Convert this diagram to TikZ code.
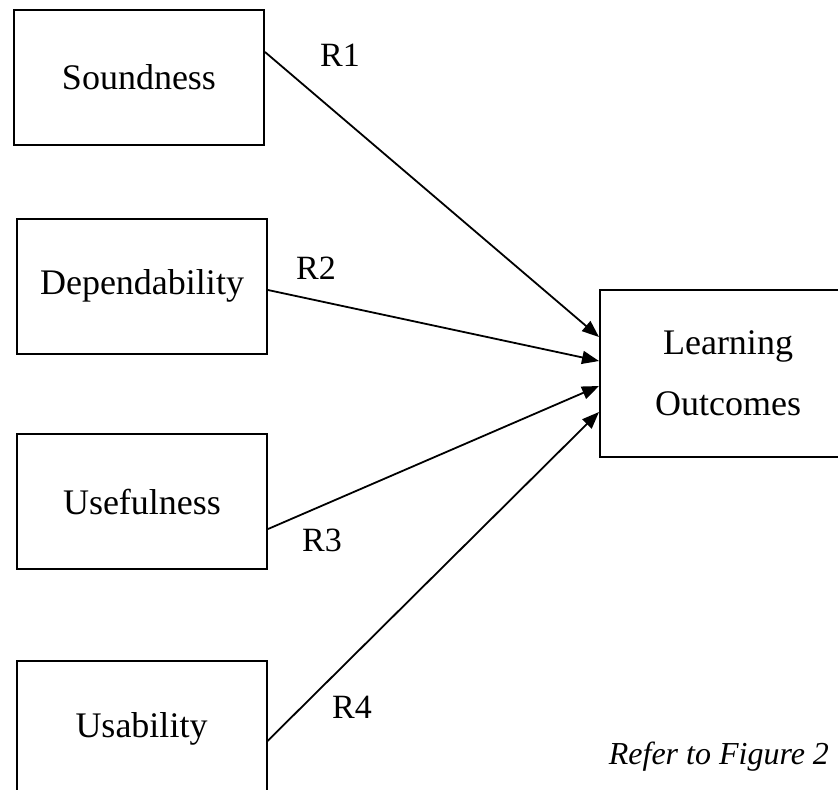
\documentclass[tikz,border=0pt]{standalone}
\usepackage{fontspec}
\setmainfont{Liberation Serif}
\usetikzlibrary{positioning, arrows.meta}

\begin{document}
\begin{tikzpicture}[x=0.5pt, y=-0.5pt,
auto,
block/.style={draw, line width=1pt, fill=white, rectangle, minimum width=125pt, minimum height=67.5pt, font=\fontsize{18}{22}\selectfont},
lbl/.style={draw=none, fill=none, font=\fontsize{17}{20}\selectfont},
link/.style={-{Triangle[length=8.5pt, width=6.5pt]}, line width=0.9pt}]

\clip (0,0) rectangle (838,789);

\node[block]					(S) at (139,77.5)		{Soundness};
\node[block]					(D) at (142,286)		{Dependability};
\node[block]					(U) at (142,501.5)		{Usefulness};
\node[block]					(Y) at (141.5,728.5)	{Usability};

\node[block, minimum width=128pt, minimum height=83.5pt, align=center, font=\fontsize{18}{30.5}\selectfont]
								(LO) at (728,373.5)		{Learning \\ Outcomes};

\node[lbl]						(R1) at (340,55)		{R1};
\node[lbl]						(R2) at (316,268)		{R2};
\node[lbl]						(R3) at (322,540)		{R3};
\node[lbl]						(R4) at (352,707)		{R4};

\node[lbl, anchor=east, font=\fontsize{16}{19}\selectfont\itshape]
								(ref) at (836,757)		{Refer to Figure 2};

\path[link]
 ([yshift=12.75pt]S.east) edge ([yshift=18.25pt]LO.west)
 ([yshift=-2pt]D.east) edge ([yshift=6.25pt]LO.west)
 ([yshift=-13.75pt]U.east) edge ([yshift=-6.25pt]LO.west)
 ([yshift=-6.25pt]Y.east) edge ([yshift=-19.25pt]LO.west);

\end{tikzpicture}
\end{document}
